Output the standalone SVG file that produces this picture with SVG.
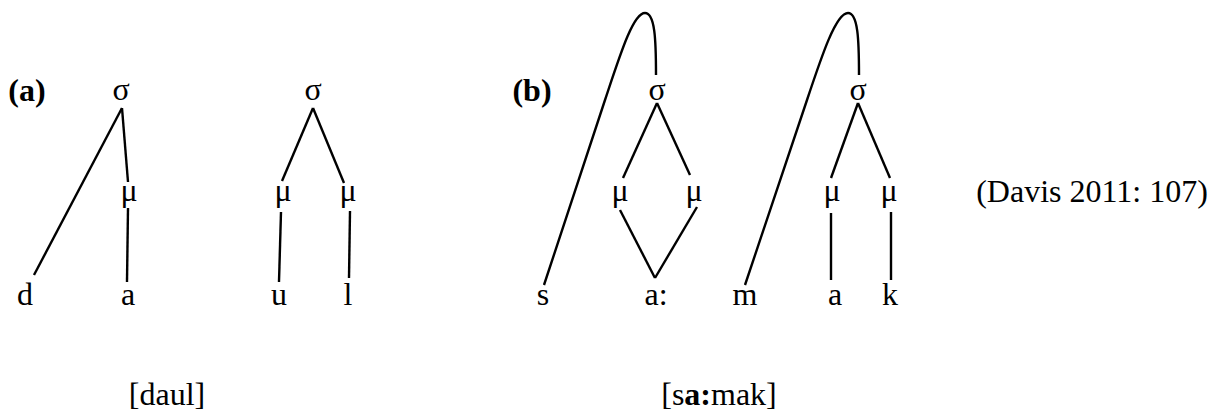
<svg xmlns="http://www.w3.org/2000/svg" width="1211" height="412" viewBox="0 0 1211 412">
<style>
text{font-family:"Liberation Serif","Times New Roman",serif;font-size:32px;fill:#000;text-anchor:middle}
.b{font-weight:bold}
.l{stroke:#000;stroke-width:2.4;fill:none;stroke-linecap:butt}
</style>
<rect width="1211" height="412" fill="#fff"/>
<g id="labels">
<text x="27" y="101" class="b">(a)</text>
<text x="532" y="101" class="b">(b)</text>
<text x="1092" y="202">(Davis 2011: 107)</text>
<text x="167" y="405">[daul]</text>
<text x="719" y="405">[s<tspan class="b">a:</tspan>mak]</text>
</g>
<g id="tree-a1">
<text x="121" y="100">σ</text>
<text x="129" y="201">μ</text>
<text x="25" y="305">d</text>
<text x="128" y="305">a</text>
</g>
<g id="tree-a2">
<text x="313" y="100">σ</text>
<text x="283" y="201">μ</text>
<text x="348" y="201">μ</text>
<text x="279" y="305">u</text>
<text x="348" y="305">l</text>
</g>
<g id="tree-b1">
<text x="657" y="100">σ</text>
<text x="620" y="201">μ</text>
<text x="694" y="201">μ</text>
<text x="543" y="305">s</text>
<text x="656" y="305">a:</text>
</g>
<g id="tree-b2">
<text x="858" y="100">σ</text>
<text x="832" y="201">μ</text>
<text x="889" y="201">μ</text>
<text x="745" y="305">m</text>
<text x="835" y="305">a</text>
<text x="890" y="305">k</text>
</g>
<g id="connectors">
<path class="l" d="M122 108 L34 275"/>
<path class="l" d="M122 108 L128 182"/>
<path class="l" d="M128 208 L127 282"/>
<path class="l" d="M313 108 L282 181"/>
<path class="l" d="M313 108 L344 183"/>
<path class="l" d="M281 212 L279 282"/>
<path class="l" d="M350 211 L349 278"/>
<path class="l" d="M544 285 L605 100 C620 55 633 13 645 13 C655 13 656 40 656 75"/>
<path class="l" d="M657 103 L623 178"/>
<path class="l" d="M657 103 L690 175"/>
<path class="l" d="M620 210 L655 278"/>
<path class="l" d="M697 207 L655 278"/>
<path class="l" d="M745 285 L807 100 C822 55 836 13 848 13 C858 13 859 40 859 75"/>
<path class="l" d="M858 103 L831 178"/>
<path class="l" d="M858 103 L890 178"/>
<path class="l" d="M831 213 L831 280"/>
<path class="l" d="M891 212 L891 280"/>
</g>
</svg>
